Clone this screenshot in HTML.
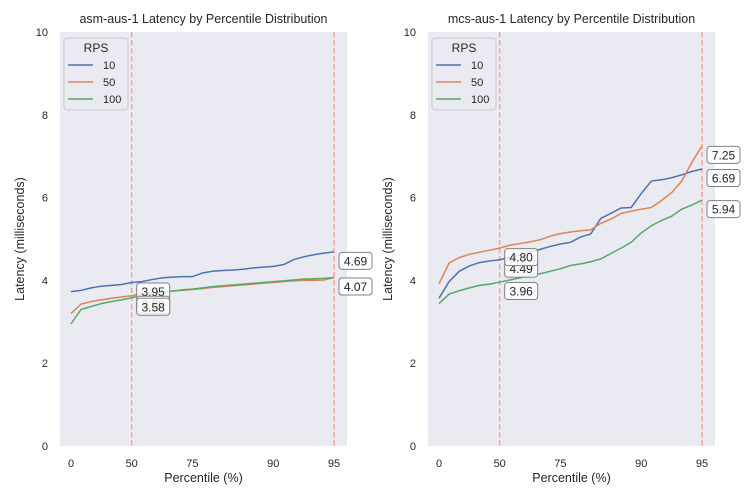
<!DOCTYPE html>
<html><head><meta charset="utf-8"><style>
body{margin:0;background:#fff;}
svg{display:block;font-family:"Liberation Sans",sans-serif;}
</style></head><body>
<svg id="chart" width="750" height="500" viewBox="0 0 750 500"></svg>
<script>
const tickIdx=[0,6,12,20,26];
const tickLabels=["0","50","75","90","95"];
const yTicks=[0,2,4,6,8,10];
const seriesNames=["10","50","100"];
const leftBlue=[3.73,3.76,3.82,3.86,3.88,3.90,3.95,3.97,4.02,4.06,4.08,4.09,4.09,4.18,4.22,4.24,4.25,4.27,4.30,4.32,4.34,4.38,4.50,4.57,4.62,4.66,4.69];
const leftOrange=[3.20,3.43,3.49,3.53,3.57,3.60,3.63,3.67,3.70,3.72,3.74,3.76,3.78,3.80,3.83,3.85,3.87,3.89,3.91,3.93,3.95,3.97,3.99,4.00,4.00,4.01,4.07];
const leftGreen=[2.95,3.30,3.37,3.44,3.49,3.53,3.58,3.64,3.68,3.72,3.74,3.77,3.79,3.82,3.85,3.87,3.89,3.91,3.93,3.95,3.97,3.99,4.01,4.03,4.04,4.05,4.07];
const rightBlue=[3.57,3.97,4.22,4.35,4.43,4.47,4.50,4.55,4.62,4.68,4.75,4.82,4.88,4.92,5.05,5.12,5.50,5.62,5.75,5.76,6.10,6.40,6.43,6.48,6.55,6.63,6.69];
const rightOrange=[3.92,4.42,4.55,4.63,4.68,4.73,4.78,4.85,4.89,4.93,4.98,5.07,5.13,5.17,5.20,5.22,5.38,5.48,5.62,5.67,5.72,5.76,5.93,6.12,6.40,6.85,7.25];
const rightGreen=[3.44,3.67,3.75,3.82,3.88,3.91,3.96,4.01,4.06,4.12,4.16,4.22,4.28,4.36,4.40,4.45,4.52,4.65,4.78,4.92,5.15,5.32,5.45,5.55,5.72,5.82,5.94];
const midLabelsL=["3.95","3.58","3.58"], endLabelsL=["4.69","4.07","4.07"];
const midLabelsR=["4.49","4.80","3.96"], endLabelsR=["6.69","7.25","5.94"];
const colors=["#4c72b0","#dd8452","#55a868"];
const NS="http://www.w3.org/2000/svg";
const svg=document.getElementById('chart');
function mk(tag,attrs,parent,text){const e=document.createElementNS(NS,tag);for(const k in attrs)e.setAttribute(k,attrs[k]);if(text!==undefined)e.textContent=text;(parent||svg).appendChild(e);return e;}
function panel(px,title,series,midL,endL,name){
  const g=mk('g',{});
  
  
  const W=287,top=32,bot=446,x0=px+11,x1=px+274,n=series[0].length-1;
  const X=i=>x0+(x1-x0)*i/n, Y=v=>bot-(bot-top)*v/10;
  const bg=mk('rect',{x:px,y:top,width:W,height:bot-top,fill:'#eaeaf2'},g);
  
  const t=mk('text',{x:px+W/2,y:23,'text-anchor':'middle','font-size':12.5,fill:'#262626'},g,title);
  
  yTicks.forEach(v=>{const l=mk('text',{x:px-12,y:Y(v)+4,'text-anchor':'end','font-size':11,fill:'#262626'},g,String(v));
    });
  tickIdx.forEach((i,k)=>{const l=mk('text',{x:X(i),y:467,'text-anchor':'middle','font-size':11,fill:'#262626'},g,tickLabels[k]);
    });
  const xl=mk('text',{x:px+W/2,y:482,'text-anchor':'middle','font-size':12.5,fill:'#262626'},g,'Percentile (%)');
  
  const yl=mk('text',{x:0,y:0,transform:`translate(${px-36},${(top+bot)/2}) rotate(-90)`,'text-anchor':'middle','font-size':12.5,fill:'#262626'},g,'Latency (milliseconds)');
  
  [tickIdx[1],n].forEach(i=>{const l=mk('line',{x1:X(i),x2:X(i),y1:top,y2:bot,stroke:'#ff9999','stroke-width':1.4,'stroke-dasharray':'5,3'},g);
    });
  series.forEach((s,k)=>{const p=mk('polyline',{points:s.map((v,i)=>X(i)+','+Y(v)).join(' '),fill:'none',stroke:colors[k],'stroke-width':1.5},g);
    });
  function ann(i,v,txt){const cx=X(i)+5,cy=Y(v)+9;
    const r=mk('rect',{x:cx,y:cy-8.5,width:33,height:17,rx:3,fill:'#fff','fill-opacity':0.8,stroke:'#808080','stroke-width':1},g);
    
    const tx=mk('text',{x:cx+16.5,y:cy+4.5,'text-anchor':'middle','font-size':12,fill:'#262626'},g,txt);
    }
  series.forEach((s,k)=>{ann(tickIdx[1],s[tickIdx[1]],midL[k]);ann(n,s[n],endL[k]);});
  const lg=mk('g',{},g);
  mk('rect',{x:px+4,y:38,width:64,height:72,rx:3,fill:'#eaeaf2',stroke:'#cccccc'},lg);
  mk('text',{x:px+36,y:52,'text-anchor':'middle','font-size':12,fill:'#262626'},lg,'RPS');
  seriesNames.forEach((nm,k)=>{const yy=65+k*17;
    const e=mk('g',{},lg);
    mk('line',{x1:px+8,x2:px+33,y1:yy,y2:yy,stroke:colors[k],'stroke-width':1.5},e);
    mk('text',{x:px+43,y:yy+4,'font-size':11,fill:'#262626'},e,nm);});
}
panel(60,'asm-aus-1 Latency by Percentile Distribution',[leftBlue,leftOrange,leftGreen],midLabelsL,endLabelsL,'asm-panel');
panel(428,'mcs-aus-1 Latency by Percentile Distribution',[rightBlue,rightOrange,rightGreen],midLabelsR,endLabelsR,'mcs-panel');
</script>
</body></html>
